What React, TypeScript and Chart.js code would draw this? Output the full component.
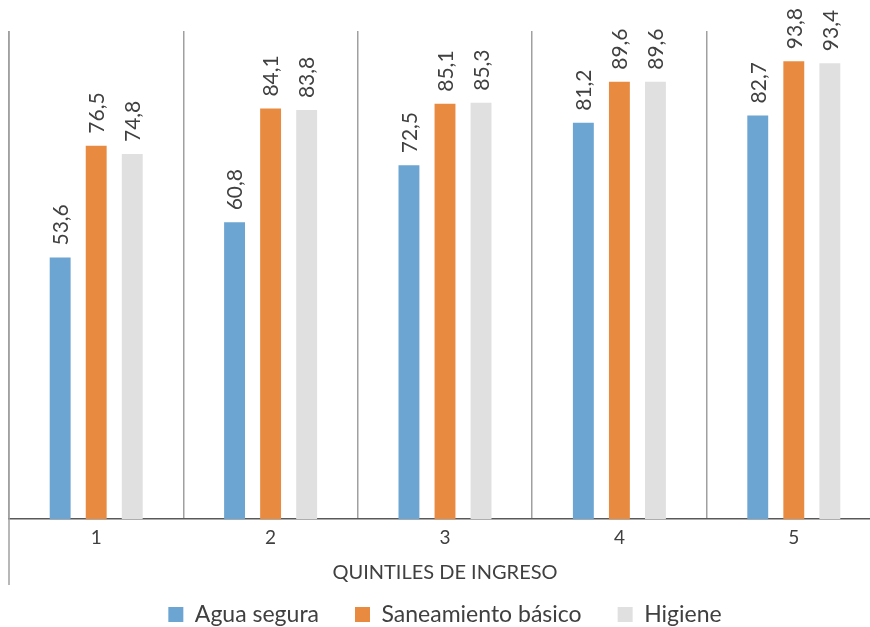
import React, { useEffect, useRef } from "react";
import { Chart, registerables } from "chart.js";

Chart.register(...registerables);

const quintiles = ["1", "2", "3", "4", "5"];
const aguaSegura = [53.6, 60.8, 72.5, 81.2, 82.7];
const saneamientoBasico = [76.5, 84.1, 85.1, 89.6, 93.8];
const higiene = [74.8, 83.8, 85.3, 89.6, 93.4];

const seriesNames = ["Agua segura", "Saneamiento básico", "Higiene"];
const seriesColors = ["#6CA4D2", "#E88B40", "#E0E0E0"];

const FONT = "Lato, 'Open Sans', sans-serif";
const TEXT = "#404040";

const fmt = (v: number) => v.toFixed(1).replace(".", ",");

// Rotated value labels above each bar
const valueLabels = {
  id: "valueLabels",
  afterDatasetsDraw(chart: any) {
    const { ctx } = chart;
    ctx.save();
    ctx.fillStyle = TEXT;
    ctx.font = `400 21px ${FONT}`;
    ctx.textAlign = "left";
    ctx.textBaseline = "middle";
    chart.data.datasets.forEach((ds: any, i: number) => {
      const meta = chart.getDatasetMeta(i);
      meta.data.forEach((bar: any, j: number) => {
        ctx.save();
        ctx.translate(bar.x, bar.y - 12);
        ctx.rotate(-Math.PI / 2);
        ctx.fillText(fmt(ds.data[j]), 0, 1);
        ctx.restore();
      });
    });
    ctx.restore();
  },
};

// Left frame line running down past the category labels
const leftFrame = {
  id: "leftFrame",
  afterDraw(chart: any) {
    const { ctx, chartArea } = chart;
    ctx.save();
    ctx.strokeStyle = "#A0A0A0";
    ctx.lineWidth = 1.5;
    ctx.beginPath();
    ctx.moveTo(chartArea.left, chartArea.top);
    ctx.lineTo(chartArea.left, 585);
    ctx.stroke();
    ctx.restore();
  },
};

export default function App() {
  const ref = useRef<HTMLCanvasElement | null>(null);

  useEffect(() => {
    if (!ref.current) return;
    const chart = new Chart(ref.current, {
      type: "bar",
      data: {
        labels: quintiles,
        datasets: [aguaSegura, saneamientoBasico, higiene].map((d, i) => ({
          label: seriesNames[i],
          data: d,
          backgroundColor: seriesColors[i],
          borderWidth: 0,
          categoryPercentage: 0.62,
          barPercentage: 0.58,
        })),
      },
      options: {
        responsive: false,
        animation: false,
        layout: { padding: { left: 9, right: 9, top: 31, bottom: 0 } },
        scales: {
          x: {
            grid: {
              offset: true,
              color: "#A0A0A0",
              lineWidth: 1.5,
              drawTicks: false,
            },
            border: { color: "#595959", width: 1.5 },
            ticks: { color: TEXT, font: { family: FONT, size: 19, weight: 400 }, padding: 7 },
            title: {
              display: true,
              text: "QUINTILES DE INGRESO",
              color: TEXT,
              font: { family: FONT, size: 20, weight: 400 },
              padding: { top: 5, bottom: -18 },
            },
          },
          y: { display: false, min: 0, max: 100 },
        },
        plugins: {
          legend: {
            position: "bottom",
            labels: {
              boxWidth: 15,
              boxHeight: 15,
              padding: 36,
              color: TEXT,
              font: { family: FONT, size: 23, weight: 400 },
            },
          },
          tooltip: { enabled: false },
        },
      },
      plugins: [valueLabels, leftFrame],
    });
    return () => chart.destroy();
  }, []);

  return (
    <div style={{ position: "fixed", left: 0, top: 0, width: 870, height: 627, overflow: "hidden", background: "#fff" }}>
      <canvas ref={ref} width={890} height={636} style={{ width: 890, height: 636, display: "block" }} />
    </div>
  );
}
